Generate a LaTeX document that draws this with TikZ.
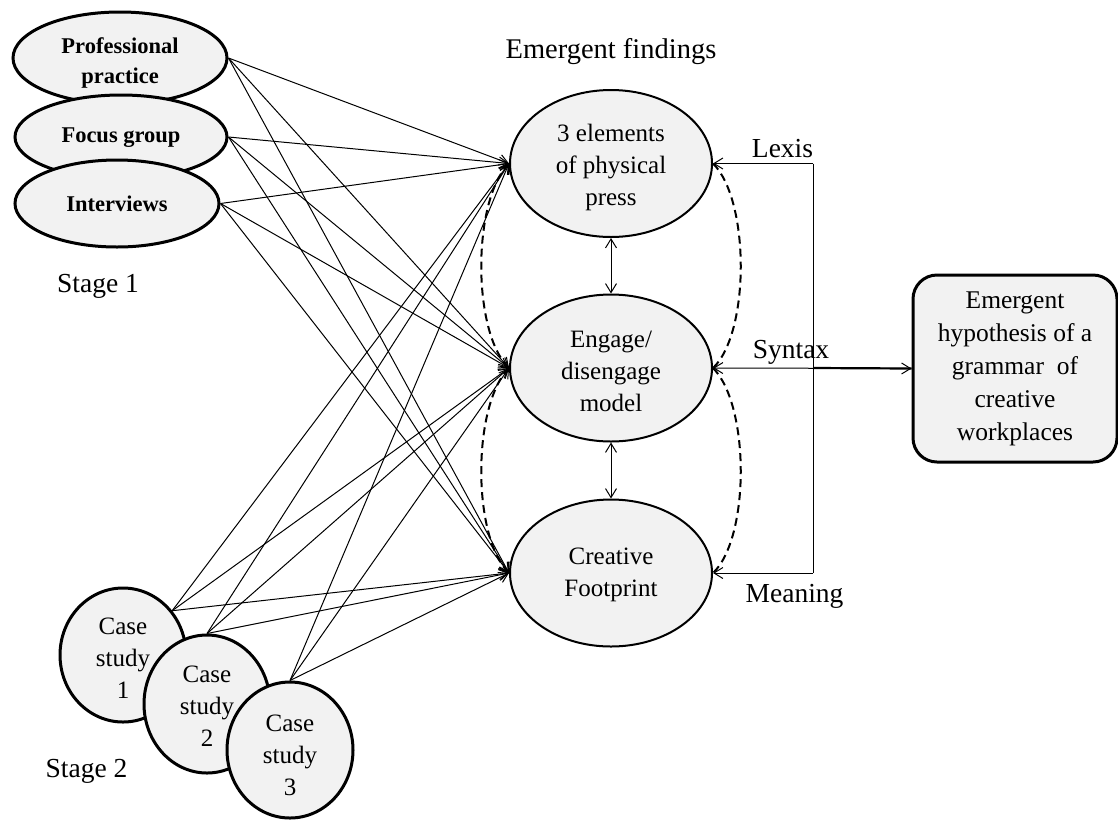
\documentclass[tikz,border=0pt]{standalone}
\usepackage{fontspec}
\setmainfont{Liberation Serif}
\usetikzlibrary{arrows.meta,shapes.geometric}
\definecolor{shade}{HTML}{F2F2F2}
\begin{document}
\begin{tikzpicture}[x=1pt,y=-1pt,
  barb/.tip={Straight Barb[length=9pt,width=11pt,line width=1pt]},
  src/.style={ellipse,draw,line width=3pt,fill=shade,inner sep=0pt},
  srctext/.style={align=center,inner sep=0pt,font=\fontsize{22.5}{29.5}\selectfont\bfseries},
  mid/.style={ellipse,draw,line width=2pt,fill=shade,inner sep=0pt,minimum width=202pt,minimum height=147pt},
  midtext/.style={align=center,inner sep=0pt,font=\fontsize{25}{32}\selectfont},
  case/.style={ellipse,draw,line width=3pt,fill=shade,inner sep=0pt,minimum width=126pt},
  casetext/.style={align=center,inner sep=0pt,font=\fontsize{25}{32}\selectfont},
  lbl/.style={anchor=base,inner sep=0pt,font=\fontsize{27.5}{30}\selectfont},
  conn/.style={line width=1pt,-barb},
  dashlink/.style={line width=2pt,dash pattern=on 8pt off 5pt},
]
\useasboundingbox (0,0) rectangle (1118,820);

% Stage 1 sources
\node[src,minimum width=214pt,minimum height=92pt] (pp) at (120,58) {};
\node[srctext] (ppt) at (120,63) {Professional\\practice};
\node[src,minimum width=212pt,minimum height=84pt] (fg) at (121,137) {};
\node[srctext] (fgt) at (121,138) {Focus group};
\node[src,minimum width=204pt,minimum height=87pt] (iv) at (117,203.5) {};
\node[srctext] (ivt) at (117,204) {Interviews};
\node[lbl] (st1) at (98,292) {Stage 1};

% Stage 2 case studies
\node[case,minimum height=134pt] (c1) at (123,655) {};
\node[casetext] (c1t) at (123,658) {Case\\study\\1};
\node[case,minimum height=138pt] (c2) at (207,704) {};
\node[casetext] (c2t) at (207,706) {Case\\study\\2};
\node[case,minimum height=136pt] (c3) at (290,750) {};
\node[casetext] (c3t) at (290,755) {Case\\study\\3};
\node[lbl] (st2) at (86.5,777) {Stage 2};

% Emergent findings
\node[lbl,font=\fontsize{28.5}{30}\selectfont] (ef) at (611,58) {Emergent findings};
\node[mid] (pe) at (611,163.5) {};
\node[midtext] (pet) at (611,167) {3 elements\\of physical\\press};
\node[mid] (eg) at (611,368) {};
\node[midtext] (egt) at (611,371) {Engage/\\disengage\\model};
\node[mid] (cf) at (611,573) {};
\node[midtext] (cft) at (611,575) {Creative\\Footprint};

% Hypothesis box
\node[draw,line width=3pt,fill=shade,rounded corners=24pt,minimum width=204pt,minimum height=187pt,
      align=center,inner sep=0pt,font=\fontsize{25.5}{33}\selectfont] (hyp) at (1015,368.5)
      {Emergent\\hypothesis of a\\grammar~ of\\creative\\workplaces};

% Source-to-finding links
\foreach \s in {pp,fg,iv}{
  \foreach \t in {pe,eg,cf}{
    \draw[conn] (\s.east) -- (\t.west);
  }
}
\foreach \t in {pe,eg,cf}{
  \draw[conn] (c1.42) -- (\t.west);
  \draw[conn] (c2.north) -- (\t.west);
  \draw[conn] (c3.north) -- (\t.west);
}

% Links between findings
\draw[line width=1pt,barb-barb] (pe.south) -- (eg.north);
\draw[line width=1pt,barb-barb] (eg.south) -- (cf.north);
\draw[dashlink] (pe.west) .. controls (472,200) and (472,333) .. (eg.west);
\draw[dashlink] (eg.west) .. controls (472,405) and (472,538) .. (cf.west);
\draw[dashlink] (pe.east) .. controls (750,200) and (750,333) .. (eg.east);
\draw[dashlink] (eg.east) .. controls (750,405) and (750,538) .. (cf.east);

% Lexis / Syntax / Meaning bracket
\coordinate (lx) at (813,163.5);
\coordinate (mn) at (813,573);
\coordinate (sx) at (813,368);
\draw[line width=1pt] (lx) -- (mn);
\draw[conn] (lx) -- (pe.east);
\draw[conn] (mn) -- (cf.east);
\draw[line width=1pt,barb-barb] (hyp.west) -- (eg.east);
\draw[line width=2.2pt] (sx) -- (hyp.west);
\node[lbl] (lexis) at (782.5,157) {Lexis};
\node[lbl] (syntax) at (791,358) {Syntax};
\node[lbl] (meaning) at (794.5,602) {Meaning};
\end{tikzpicture}
\end{document}
